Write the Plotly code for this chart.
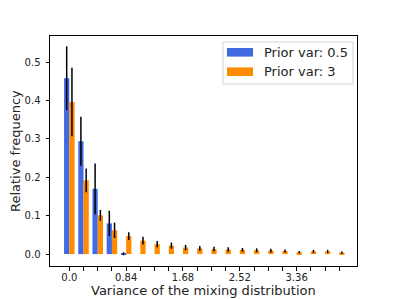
import plotly.graph_objects as go

# ---- data ----
bins = list(range(20))
tick_labels = ["0.0", "", "", "", "0.84", "", "", "", "1.68", "", "", "", "2.52", "", "", "", "3.36", "", "", ""]
blue_vals = [0.458, 0.294, 0.170, 0.080, 0.001] + [None] * 15
blue_err = [0.083, 0.064, 0.066, 0.033, 0.004] + [None] * 15
orange_vals = [0.396, 0.192, 0.101, 0.062, 0.047, 0.035, 0.026, 0.022, 0.017, 0.015,
               0.013, 0.012, 0.011, 0.010, 0.009, 0.008, 0.005, 0.007, 0.007, 0.004]
orange_err = [0.089, 0.031, 0.014, 0.020, 0.010, 0.010, 0.008, 0.008, 0.007, 0.006,
              0.006, 0.006, 0.005, 0.005, 0.005, 0.004, 0.003, 0.004, 0.004, 0.003]
series_names = ["Prior var: 0.5", "Prior var: 3"]
colors = ["#4169E1", "#FF8C00"]
x_title = "Variance of the mixing distribution"
y_title = "Relative frequency"

FONT = "DejaVu Sans"
TXT = "#222"
fig = go.Figure()
for vals, err, name, col in [(blue_vals, blue_err, series_names[0], colors[0]),
                             (orange_vals, orange_err, series_names[1], colors[1])]:
    fig.add_trace(go.Bar(
        x=bins, y=vals, name=name, marker=dict(color=col, line=dict(width=0)),
        error_y=dict(type="data", array=err, visible=True, color="black", thickness=1.5, width=0),
        showlegend=False,
    ))

axis_common = dict(showline=True, linecolor="black", linewidth=1, mirror=True,
                   ticks="outside", ticklen=3.5, tickcolor="black", tickwidth=1,
                   showgrid=False, zeroline=False, automargin=False,
                   tickfont=dict(family=FONT, size=10, color=TXT))

# plot area in pixels: x 50..357, y 36..266
L, R, T, B = 50, 357, 36, 266
def px(x):
    return (x - L) / (R - L)
def py(y):
    return (B - y) / (B - T)

shapes = [dict(type="rect", xref="paper", yref="paper",
               x0=px(223), x1=px(353), y0=py(84), y1=py(42),
               line=dict(color="#d4d4d4", width=1), fillcolor="rgba(255,255,255,0.8)")]
annotations = [
    dict(text=x_title, xref="paper", yref="paper", x=0.5, y=py(290),
         xanchor="center", yanchor="middle", showarrow=False,
         font=dict(family=FONT, size=13, color=TXT)),
    dict(text=y_title, xref="paper", yref="paper", x=px(15), y=0.5,
         xanchor="center", yanchor="middle", textangle=-90, showarrow=False,
         font=dict(family=FONT, size=13, color=TXT)),
]
for i, (name, col) in enumerate(zip(series_names, colors)):
    cy = 52.3 + i * 19.4
    shapes.append(dict(type="rect", xref="paper", yref="paper",
                       x0=px(227), x1=px(253), y0=py(cy + 4.3), y1=py(cy - 4.3),
                       line=dict(width=0), fillcolor=col))
    annotations.append(dict(text=name, xref="paper", yref="paper", x=px(262), y=py(cy),
                            xanchor="left", yanchor="middle", showarrow=False,
                            font=dict(family=FONT, size=13, color=TXT)))

fig.update_layout(
    width=399, height=299,
    margin=dict(l=L, r=399 - R, t=T, b=299 - B),
    paper_bgcolor="white", plot_bgcolor="white",
    barmode="group", bargap=0.26, bargroupgap=0,
    font=dict(family=FONT, color=TXT),
    showlegend=False,
    xaxis=dict(**axis_common, range=[-1.36, 20.25], tickmode="array",
               tickvals=bins, ticktext=tick_labels, ticklabelstandoff=-2),
    yaxis=dict(**axis_common, range=[-0.031, 0.568], tickmode="array",
               tickvals=[0, 0.1, 0.2, 0.3, 0.4, 0.5], tickformat=".1f",
               ticklabelstandoff=3),
    shapes=shapes,
    annotations=annotations,
)

fig.write_html("out.html", config={"displayModeBar": False},
               post_script="document.body.style.margin='0';document.body.style.overflow='hidden';")
